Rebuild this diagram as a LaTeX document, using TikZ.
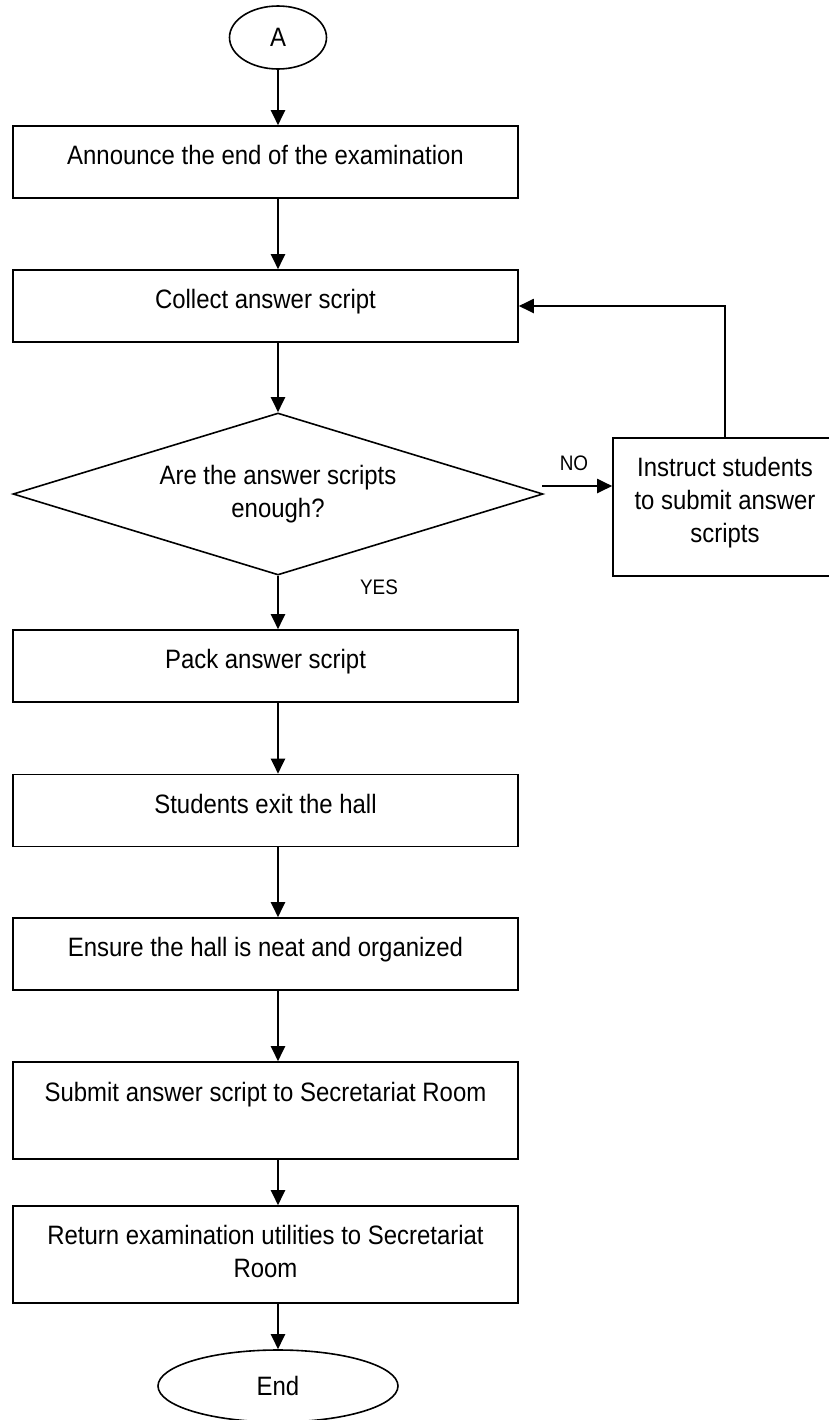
\documentclass[tikz,border=0pt]{standalone}
\usepackage{fontspec}
\setmainfont{Liberation Sans}[FakeStretch=0.9]
\usetikzlibrary{shapes.geometric,arrows.meta}

\begin{document}
\begin{tikzpicture}[x=0.5pt,y=-0.5pt,
        stepbox/.style={draw,line width=0.8pt,rectangle,inner sep=0pt,
            minimum width=252.5pt,minimum height=36pt,align=center,
            font=\fontsize{13.3}{16.5}\selectfont,text depth=7pt},
        terminal/.style={draw,line width=0.8pt,ellipse,inner sep=0pt,
            font=\fontsize{13.3}{16.5}\selectfont},
        decision/.style={draw,line width=0.8pt,diamond,inner sep=0pt,aspect=3.27,
            minimum width=265pt,minimum height=81pt,align=center,
            font=\fontsize{13.3}{16.5}\selectfont},
        answer/.style={font=\fontsize{10.5}{12}\selectfont},
        arr/.style={line width=1pt,-{Triangle[length=7.5pt,width=7pt]}}]
        \useasboundingbox (0,0) rectangle (829,1420);

        % Nodes (start and end)
        \node[terminal,minimum width=48.5pt,minimum height=31.5pt] (A) at (278,37.5) {A};
        \node[terminal,minimum width=120pt,minimum height=36pt] (End) at (278,1386) {End};

        % Nodes (main steps)
        \node[stepbox] (Announce) at (265.5,162) {Announce the end of the examination};
        \node[stepbox] (Collect) at (265.5,306) {Collect answer script};
        \node[decision] (Enough) at (278,494) {Are the answer scripts\\enough?};
        \node[stepbox] (Pack) at (265.5,666) {Pack answer script};
        \node[stepbox] (Exit) at (265.5,810.5) {Students exit the hall};
        \node[stepbox] (Neat) at (265.5,954) {Ensure the hall is neat and organized};
        \node[stepbox,minimum height=48.5pt,text depth=18.5pt] (Submit) at (265.5,1110.5) {Submit answer script to Secretariat Room};
        \node[stepbox,minimum height=48.5pt,text depth=3pt] (Return) at (265.5,1254.5) {Return examination utilities to Secretariat\\Room};

        % Node (side step)
        \node[stepbox,minimum width=112pt,minimum height=69pt] (Instruct) at (725,507) {Instruct students\\to submit answer\\scripts};

        % Labels
        \node[answer] (No) at (574,463) {NO};
        \node[answer] (Yes) at (379,587) {YES};

        % Connecting arrows (main flow)
        \draw[arr] (A.south) -- (A.south |- Announce.north);
        \draw[arr] (Announce.south -| A) -- (Collect.north -| A);
        \draw[arr] (Collect.south -| A) -- (Enough.north);
        \draw[arr] (Enough.south) -- (Enough.south |- Pack.north);
        \draw[arr] (Pack.south -| A) -- (Exit.north -| A);
        \draw[arr] (Exit.south -| A) -- (Neat.north -| A);
        \draw[arr] (Neat.south -| A) -- (Submit.north -| A);
        \draw[arr] (Submit.south -| A) -- (Return.north -| A);
        \draw[arr] (Return.south -| A) -- (End.north);

        % Loop back
        \coordinate (NoFrom) at (542,486);
        \draw[arr] (NoFrom) -- (NoFrom -| Instruct.west);
        \draw[arr] (Instruct.north) |- (Collect.east);

    \end{tikzpicture}
\end{document}
